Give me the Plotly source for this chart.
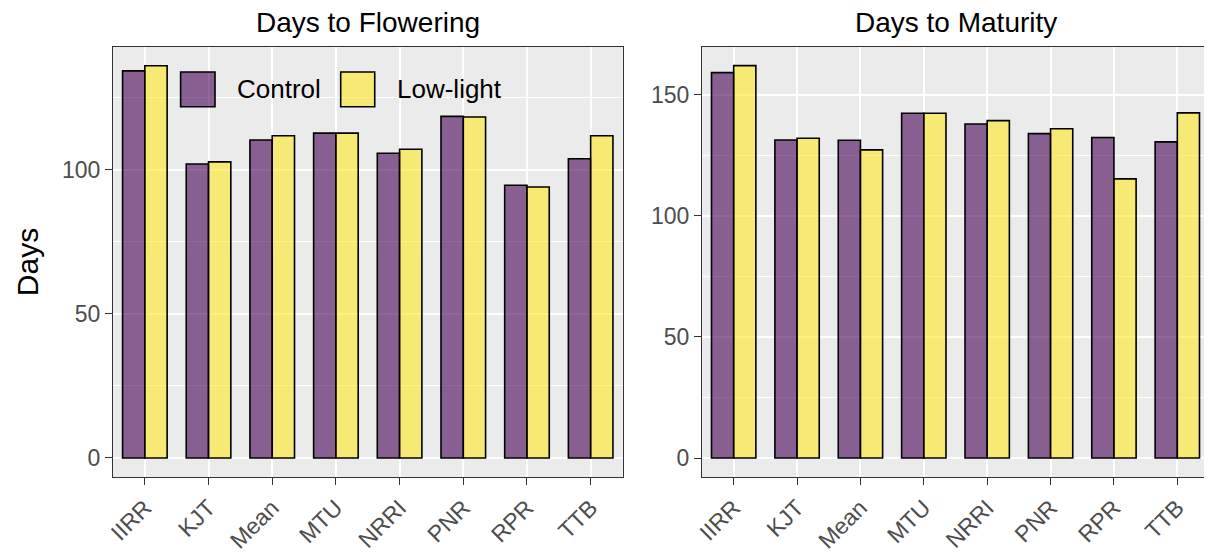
import plotly.graph_objects as go

# ---- data ----
sites = ["IIRR", "KJT", "Mean", "MTU", "NRRI", "PNR", "RPR", "TTB"]
series_names = ["Control", "Low-light"]
flower_control = [134.4, 102.1, 110.4, 112.8, 105.8, 118.6, 94.7, 103.9]
flower_lowlight = [136.2, 102.8, 111.9, 112.8, 107.2, 118.4, 94.1, 111.9]
maturity_control = [159.2, 131.4, 131.3, 142.4, 138.0, 134.0, 132.4, 130.6]
maturity_lowlight = [162.1, 132.1, 127.3, 142.4, 139.4, 136.0, 115.3, 142.6]
panel_titles = ["Days to Flowering", "Days to Maturity"]
y_title = "Days"

fills = ["rgba(68,1,84,0.6)", "rgba(253,231,37,0.6)"]
FONT = "Liberation Sans, Arial, sans-serif"

fig = go.Figure()
panels = [(flower_control, flower_lowlight, "x", "y"),
          (maturity_control, maturity_lowlight, "x2", "y2")]
for ctrl, low, xa, ya in panels:
    for name, vals, col in zip(series_names, [ctrl, low], fills):
        fig.add_trace(go.Bar(
            x=sites, y=vals, name=name, xaxis=xa, yaxis=ya,
            marker=dict(color=col, line=dict(color="#000000", width=1.6)),
            showlegend=False,
        ))

# page body has an 8px margin: compensate
OFF = 8
W, H = 1212 - OFF, 556 - OFF
L = 113 - OFF
T = 47 - OFF
B = H - (477 - OFF)
R = W - (1209 - OFF)
pw = W - L - R
left_dom = [0, (622.5 - 113) / pw]
right_dom = [(702 - 113) / pw, 1]

axis_common = dict(
    showline=True, mirror=True, linecolor="#333333", linewidth=1.3,
    ticks="outside", ticklen=7, tickwidth=1.3, tickcolor="#333333",
    tickfont=dict(family=FONT, size=23, color="#4D4D4D"),
    showgrid=True, gridcolor="#FFFFFF", gridwidth=1.5, zeroline=False,
    automargin=False,
)

fig.update_layout(
    width=W, height=H,
    margin=dict(l=L, r=R, t=T, b=B, autoexpand=False),
    paper_bgcolor="#FFFFFF", plot_bgcolor="#EBEBEB",
    barmode="group", bargap=0.3, bargroupgap=0.0,
    showlegend=False,
    font=dict(family=FONT),
    xaxis=dict(domain=left_dom, anchor="y", tickangle=-45,
               categoryorder="array", categoryarray=sites, **axis_common),
    yaxis=dict(domain=[0, 1], anchor="x", range=[-6.6, 142.7],
               tickvals=[0, 50, 100],
               minor=dict(showgrid=True, gridcolor="#FFFFFF", gridwidth=0.7,
                          tickvals=[25, 75, 125], ticks=""),
               title=dict(text=y_title, font=dict(family=FONT, size=30, color="#000000"),
                          standoff=14),
               **axis_common),
    xaxis2=dict(domain=right_dom, anchor="y2", tickangle=-45,
                categoryorder="array", categoryarray=sites, **axis_common),
    yaxis2=dict(domain=[0, 1], anchor="x2", range=[-7.85, 169.8],
                tickvals=[0, 50, 100, 150],
                minor=dict(showgrid=True, gridcolor="#FFFFFF", gridwidth=0.7,
                           tickvals=[25, 75, 125], ticks=""),
                **axis_common),
)

# panel titles
for title, dom in zip(panel_titles, [left_dom, right_dom]):
    fig.add_annotation(text=title, xref="paper", yref="paper",
                       x=(dom[0] + dom[1]) / 2, y=1, yshift=7,
                       xanchor="center", yanchor="bottom", showarrow=False,
                       font=dict(family=FONT, size=28, color="#000000"))

# custom legend (large swatches) inside left panel
legend_swatches = [(0.1327, 0.2002, 0.2394), (0.4469, 0.5137, 0.5535)]
for (x0, x1, tx), name, col in zip(legend_swatches, series_names, fills):
    fig.add_shape(type="rect", xref="x domain", yref="y domain",
                  x0=x0, x1=x1, y0=0.8612, y1=0.9419,
                  fillcolor=col, line=dict(color="#000000", width=1.6))
    fig.add_annotation(text=name, xref="x domain", yref="y domain",
                       x=tx, y=0.9015, xanchor="left", yanchor="middle",
                       showarrow=False,
                       font=dict(family=FONT, size=26, color="#000000"))

fig.write_html("out.html")
